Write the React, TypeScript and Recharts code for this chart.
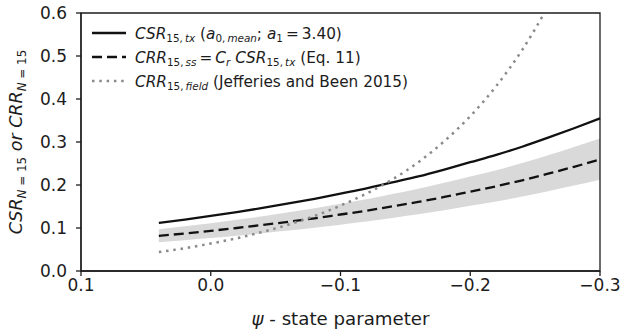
import React from 'react';
import {
  ComposedChart,
  Line,
  Area,
  XAxis,
  YAxis,
  Legend,
  ReferenceArea,
} from 'recharts';

// State parameter values (psi) at which the curves are tabulated
const PSI = [0.04, 0.02, 0, -0.02, -0.04, -0.06, -0.08, -0.1, -0.12, -0.14, -0.16, -0.18, -0.2, -0.22, -0.24, -0.26, -0.28, -0.3];

// CSR_15,tx (a0,mean; a1 = 3.40)
const CSR_TX = [0.112, 0.1196, 0.128, 0.137, 0.1467, 0.157, 0.168, 0.18, 0.192, 0.206, 0.22, 0.236, 0.253, 0.27, 0.289, 0.31, 0.332, 0.355];

// CRR_15,ss = Cr CSR_15,tx (Eq. 11)
const CRR_SS = [0.0818, 0.0873, 0.0934, 0.1, 0.1071, 0.1146, 0.1226, 0.1314, 0.1402, 0.1504, 0.1606, 0.1723, 0.1847, 0.1971, 0.211, 0.2263, 0.2424, 0.2592];

// Uncertainty band around CRR_15,ss
const CRR_SS_LOW = [0.067, 0.0716, 0.0766, 0.082, 0.0878, 0.094, 0.1005, 0.1077, 0.115, 0.1233, 0.1317, 0.1413, 0.1515, 0.1616, 0.173, 0.1856, 0.1988, 0.2125];
const CRR_SS_HIGH = [0.097, 0.1039, 0.1111, 0.119, 0.1274, 0.1364, 0.1459, 0.1564, 0.1668, 0.179, 0.1911, 0.205, 0.2198, 0.2345, 0.2511, 0.2693, 0.2885, 0.3084];

// CRR_15,field (Jefferies and Been 2015)
const CRR_FIELD: (number | null)[] = [0.044, 0.053, 0.064, 0.076, 0.091, 0.108, 0.128, 0.152, 0.18, 0.213, 0.253, 0.302, 0.36, 0.43, 0.514, 0.615, null, null];

const X_TICKS = [0.1, 0, -0.1, -0.2, -0.3];
const Y_TICKS = [0, 0.1, 0.2, 0.3, 0.4, 0.5, 0.6];

const data = PSI.map((psi, i) => ({
  psi,
  csr: CSR_TX[i],
  crr: CRR_SS[i],
  band: [CRR_SS_LOW[i], CRR_SS_HIGH[i]],
  field: CRR_FIELD[i],
}));

const FONT = '"DejaVu Sans", Verdana, sans-serif';
const INK = '#1c1c1c';
const TICK_FS = 17;
const THIN = '\u2009';

type Seg = { t: string; it?: boolean; sub?: boolean };

// Renders a run of text with italic parts and lowered subscripts
function rich(segs: Seg[], fs: number) {
  const subFs = fs * 0.68;
  const subDy = fs * 0.24;
  let lowered = false;
  return segs.map((s, k) => {
    let dy = 0;
    if (s.sub && !lowered) {
      dy = subDy;
      lowered = true;
    } else if (!s.sub && lowered) {
      dy = -subDy;
      lowered = false;
    }
    return (
      <tspan
        key={k}
        dy={dy}
        fontStyle={s.it ? 'italic' : 'normal'}
        fontSize={s.sub ? subFs : fs}
        style={{ whiteSpace: 'pre' }}
      >
        {s.t}
      </tspan>
    );
  });
}

const LEGEND_FS = 15.3;

const LEGEND_ROWS: { segs: Seg[]; color: string; dash?: string; width: number }[] = [
  {
    segs: [
      { t: 'CSR', it: true },
      { t: '15,' + THIN, sub: true },
      { t: 'tx', it: true, sub: true },
      { t: ' (' },
      { t: 'a', it: true },
      { t: '0,' + THIN, sub: true },
      { t: 'mean', it: true, sub: true },
      { t: '; ' },
      { t: 'a', it: true },
      { t: '1', sub: true },
      { t: THIN + '=' + THIN + '3.40)' },
    ],
    color: '#111',
    width: 2.3,
  },
  {
    segs: [
      { t: 'CRR', it: true },
      { t: '15,' + THIN, sub: true },
      { t: 'ss', it: true, sub: true },
      { t: THIN + '=' + THIN },
      { t: 'C', it: true },
      { t: 'r', it: true, sub: true },
      { t: ' CSR', it: true },
      { t: '15,' + THIN, sub: true },
      { t: 'tx', it: true, sub: true },
      { t: ' (Eq. 11)' },
    ],
    color: '#111',
    dash: '10 5',
    width: 2.3,
  },
  {
    segs: [
      { t: 'CRR', it: true },
      { t: '15,' + THIN, sub: true },
      { t: 'field', it: true, sub: true },
      { t: ' (Jefferies and Been 2015)' },
    ],
    color: '#8a8a8a',
    dash: '2.5 4.8',
    width: 2.5,
  },
];

function LegendBox() {
  return (
    <svg width={400} height={80} style={{ display: 'block', fontFamily: FONT }}>
      {LEGEND_ROWS.map((r, i) => {
        const cy = 13 + i * 24;
        return (
          <g key={i}>
            <line x1={7} x2={41} y1={cy} y2={cy} stroke={r.color} strokeWidth={r.width} strokeDasharray={r.dash} />
            <text x={50} y={cy + 5.5} fill={INK} fontSize={LEGEND_FS}>
              {rich(r.segs, LEGEND_FS)}
            </text>
          </g>
        );
      })}
    </svg>
  );
}

function YLabel(props: any) {
  const vb = props.viewBox || {};
  const cy = (vb.y ?? 13) + (vb.height ?? 258) / 2;
  const cx = 22;
  const fs = 17.5;
  return (
    <text
      x={cx}
      y={cy}
      transform={`rotate(-90, ${cx}, ${cy})`}
      textAnchor="middle"
      fill={INK}
      fontSize={fs}
      fontFamily={FONT}
    >
      {rich(
        [
          { t: 'CSR', it: true },
          { t: 'N', it: true, sub: true },
          { t: ' = 15', sub: true },
          { t: ' or CRR', it: true },
          { t: 'N', it: true, sub: true },
          { t: ' = 15', sub: true },
        ],
        fs,
      )}
    </text>
  );
}

function XLabel(props: any) {
  const vb = props.viewBox || {};
  const cx = (vb.x ?? 81) + (vb.width ?? 519) / 2;
  return (
    <text x={cx} y={325} textAnchor="middle" fill={INK} fontSize={18.2} fontFamily={FONT}>
      <tspan fontStyle="italic">ψ</tspan>
      <tspan style={{ whiteSpace: 'pre' }}> - state parameter</tspan>
    </text>
  );
}

const fmt = (v: number) => (v < 0 ? '\u2212' : '') + Math.abs(v).toFixed(1);

export default function App() {
  return (
    <div style={{ position: 'absolute', left: 0, top: 0, background: '#fff' }}>
      <ComposedChart
        width={634}
        height={331}
        data={data}
        margin={{ top: 13, right: 34, bottom: 0, left: 0 }}
        style={{ fontFamily: FONT }}
      >
        <XAxis
          dataKey="psi"
          type="number"
          domain={[-0.3, 0.1]}
          reversed
          ticks={X_TICKS}
          tickFormatter={fmt}
          height={60}
          tickSize={5}
          tickMargin={3}
          stroke={INK}
          strokeWidth={1.3}
          tick={{ fill: INK, fontSize: TICK_FS, fontFamily: FONT }}
          label={{ content: (p: any) => <XLabel {...p} /> }}
          interval={0}
        />
        <YAxis
          type="number"
          domain={[0, 0.6]}
          allowDataOverflow
          ticks={Y_TICKS}
          tickFormatter={(v: number) => v.toFixed(1)}
          width={81}
          tickSize={5}
          tickMargin={9}
          stroke={INK}
          strokeWidth={1.3}
          tick={{ fill: INK, fontSize: TICK_FS, fontFamily: FONT }}
          label={{ content: (p: any) => <YLabel {...p} /> }}
          interval={0}
        />
        <Area
          dataKey="band"
          type="monotone"
          stroke="none"
          fill="#d9d9d9"
          fillOpacity={1}
          isAnimationActive={false}
          dot={false}
          activeDot={false}
        />
        <Line
          dataKey="csr"
          type="monotone"
          stroke="#111"
          strokeWidth={2.3}
          dot={false}
          activeDot={false}
          isAnimationActive={false}
        />
        <Line
          dataKey="crr"
          type="monotone"
          stroke="#111"
          strokeWidth={2.3}
          strokeDasharray="10 5"
          dot={false}
          activeDot={false}
          isAnimationActive={false}
        />
        <Line
          dataKey="field"
          type="monotone"
          stroke="#8a8a8a"
          strokeWidth={2.5}
          strokeDasharray="2.5 4.8"
          dot={false}
          activeDot={false}
          isAnimationActive={false}
        />
        <ReferenceArea
          x1={0.1}
          x2={-0.3}
          y1={0}
          y2={0.6}
          fill="none"
          stroke={INK}
          strokeWidth={1.3}
          ifOverflow="visible"
        />
        <Legend
          layout="vertical"
          align="center"
          verticalAlign="middle"
          content={() => <LegendBox />}
          wrapperStyle={{ left: 85, top: 20, width: 400, height: 80 }}
        />
      </ComposedChart>
    </div>
  );
}
